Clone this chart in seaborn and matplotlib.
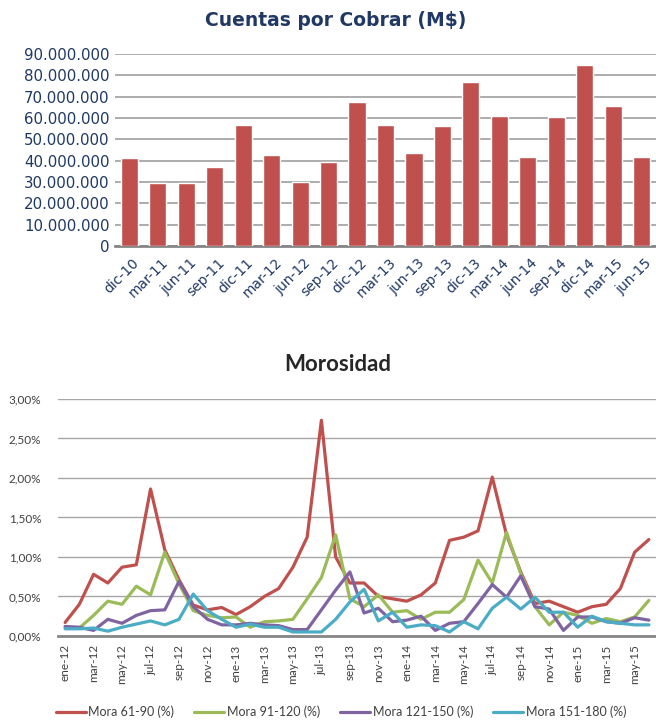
import numpy as np
import pandas as pd
import matplotlib
matplotlib.use("Agg")
import matplotlib.pyplot as plt
import matplotlib.transforms as mtrans
import seaborn as sns
from matplotlib.ticker import FuncFormatter

# --- data ---
quarters = ['dic-10', 'mar-11', 'jun-11', 'sep-11', 'dic-11', 'mar-12', 'jun-12', 'sep-12',
            'dic-12', 'mar-13', 'jun-13', 'sep-13', 'dic-13', 'mar-14', 'jun-14', 'sep-14',
            'dic-14', 'mar-15', 'jun-15']
cuentas = [41200000, 29300000, 29300000, 37100000, 56600000, 42800000, 29800000, 39500000,
           67400000, 56600000, 43600000, 56000000, 76800000, 60800000, 41500000, 60500000,
           84800000, 65700000, 41800000]

mes = ['ene', 'feb', 'mar', 'abr', 'may', 'jun', 'jul', 'ago', 'sep', 'oct', 'nov', 'dic']
months = [f"{m}-{y}" for y in (12, 13, 14) for m in mes] + [f"{m}-15" for m in mes[:6]]

mora_61_90 = [0.17, 0.40, 0.78, 0.67, 0.87, 0.90, 1.86, 1.09, 0.71, 0.39, 0.33, 0.36,
              0.27, 0.37, 0.50, 0.60, 0.87, 1.25, 2.73, 1.00, 0.67, 0.67, 0.50, 0.47,
              0.44, 0.52, 0.67, 1.21, 1.25, 1.33, 2.01, 1.28, 0.81, 0.41, 0.44, 0.37,
              0.30, 0.37, 0.40, 0.60, 1.06, 1.22]
mora_91_120 = [0.11, 0.10, 0.26, 0.44, 0.40, 0.63, 0.52, 1.06, 0.66, 0.32, 0.26, 0.23,
               0.24, 0.11, 0.18, 0.19, 0.21, 0.47, 0.74, 1.28, 0.47, 0.37, 0.52, 0.30,
               0.32, 0.21, 0.30, 0.30, 0.46, 0.96, 0.67, 1.31, 0.79, 0.37, 0.14, 0.30,
               0.26, 0.16, 0.22, 0.18, 0.24, 0.45]
mora_121_150 = [0.12, 0.11, 0.07, 0.21, 0.16, 0.26, 0.32, 0.33, 0.69, 0.37, 0.21, 0.14,
                0.14, 0.16, 0.14, 0.13, 0.08, 0.08, 0.33, 0.58, 0.81, 0.29, 0.35, 0.18,
                0.20, 0.25, 0.07, 0.16, 0.18, 0.41, 0.65, 0.49, 0.76, 0.37, 0.34, 0.07,
                0.24, 0.24, 0.18, 0.16, 0.23, 0.20]
mora_151_180 = [0.09, 0.09, 0.10, 0.06, 0.11, 0.15, 0.19, 0.14, 0.21, 0.53, 0.32, 0.21,
                0.11, 0.15, 0.11, 0.11, 0.05, 0.05, 0.05, 0.21, 0.43, 0.59, 0.19, 0.30,
                0.11, 0.14, 0.13, 0.05, 0.18, 0.09, 0.35, 0.49, 0.34, 0.49, 0.30, 0.30,
                0.11, 0.25, 0.18, 0.16, 0.14, 0.14]

series_names = ['Mora 61-90 (%)', 'Mora 91-120 (%)', 'Mora 121-150 (%)', 'Mora 151-180 (%)']
series_vals = [mora_61_90, mora_91_120, mora_121_150, mora_151_180]
colors = ['#C0504D', '#9BBB59', '#8064A2', '#4BACC6']

navy = '#1F3864'
grid_col = '#A6A6A6'
axis_col = '#868686'

sns.set_style("white")
plt.rcParams['font.family'] = ['DejaVu Sans']

fig = plt.figure(figsize=(6.56, 7.21), dpi=100)

# --- top chart: bars ---
ax1 = fig.add_axes([0.1753, 0.659, 0.8247, 0.2663])
df_bar = pd.DataFrame({'periodo': quarters, 'monto': cuentas})
sns.barplot(data=df_bar, x='periodo', y='monto', color='#C0504D', width=0.6,
            saturation=1, ax=ax1, zorder=3)
ax1.set_ylim(0, 90000000)
ax1.set_yticks(np.arange(0, 90000001, 10000000))
ax1.yaxis.set_major_formatter(FuncFormatter(lambda v, p: f"{v:,.0f}".replace(',', '.')))
ax1.grid(axis='y', color=grid_col, linewidth=1.3, zorder=0)
ax1.set_xlabel('')
ax1.set_ylabel('')
for s in ['top', 'right', 'left']:
    ax1.spines[s].set_visible(False)
ax1.spines['bottom'].set_color(axis_col)
ax1.spines['bottom'].set_linewidth(2)
ax1.tick_params(axis='y', length=0, colors=navy, labelsize=10.8, pad=4)
ax1.tick_params(axis='x', length=0, colors=navy, labelsize=10, pad=7)
shift = mtrans.ScaledTranslation(0.03, 0, fig.dpi_scale_trans)
for lab in ax1.get_xticklabels():
    lab.set_rotation(45)
    lab.set_ha('right')
    lab.set_rotation_mode('anchor')
    lab.set_transform(lab.get_transform() + shift)
fig.text(0.511, 0.972, 'Cuentas por Cobrar (M$)', ha='center', va='center',
         fontsize=13.5, fontweight='bold', color=navy)

# --- bottom chart: lines ---
ax2 = fig.add_axes([0.0884, 0.118, 0.9116, 0.3287])
df_line = pd.DataFrame({
    'mes': np.tile(np.arange(len(months)), len(series_names)),
    'valor': np.concatenate(series_vals),
    'serie': np.repeat(series_names, len(months)),
})
sns.lineplot(data=df_line, x='mes', y='valor', hue='serie', palette=colors,
             linewidth=2.3, ax=ax2, legend=True, zorder=3)
ax2.set_xlim(-0.5, len(months) - 0.5)
ax2.set_ylim(0, 3.0)
ax2.set_yticks(np.arange(0, 3.01, 0.5))
ax2.yaxis.set_major_formatter(FuncFormatter(lambda v, p: f"{v:.2f}%".replace('.', ',')))
ax2.set_xticks(np.arange(0, len(months), 2))
ax2.set_xticklabels(months[::2], rotation=90, fontfamily='Lato', fontsize=8.5, color='#404040')
for lab in ax2.get_yticklabels():
    lab.set_fontfamily('Lato')
ax2.tick_params(axis='y', labelsize=8.5, colors='#404040', length=0, pad=12)
ax2.tick_params(axis='x', length=0, pad=6)
ax2.grid(axis='y', color=grid_col, linewidth=1, zorder=0)
ax2.set_xlabel('')
ax2.set_ylabel('')
for s in ['top', 'right', 'left']:
    ax2.spines[s].set_visible(False)
ax2.spines['bottom'].set_color(axis_col)
ax2.spines['bottom'].set_linewidth(2)

handles, labels = ax2.get_legend_handles_labels()
ax2.get_legend().remove()
leg = fig.legend(handles, labels, loc='center', bbox_to_anchor=(0.52, 0.0125), ncol=4,
                 frameon=False, prop={'family': 'Lato', 'size': 9}, handlelength=2.4,
                 handletextpad=0.2, columnspacing=1.6)
for t in leg.get_texts():
    t.set_color('#404040')

fig.text(0.515, 0.494, 'Morosidad', ha='center', va='center', fontsize=16,
         fontweight='bold', fontfamily='Lato', color='#262626')

fig.savefig('out.png', dpi=100)
